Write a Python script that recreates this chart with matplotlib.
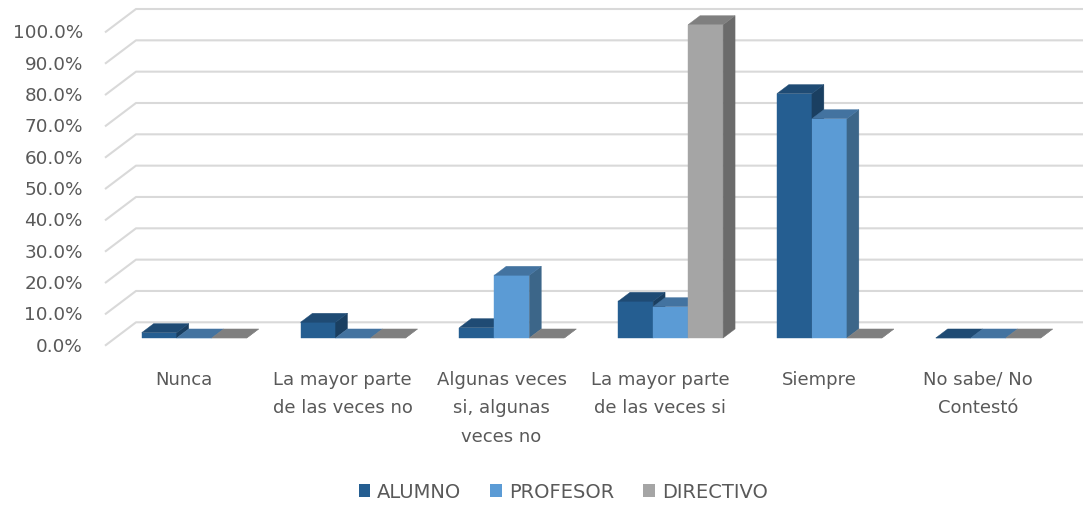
import matplotlib
matplotlib.use("Agg")
import matplotlib.pyplot as plt
from matplotlib.patches import Polygon, Patch

# data (percent)
categories = [
    "Nunca",
    "La mayor parte\nde las veces no",
    "Algunas veces\nsi, algunas\nveces no",
    "La mayor parte\nde las veces si",
    "Siempre",
    "No sabe/ No\nContestó",
]
series_names = ["ALUMNO", "PROFESOR", "DIRECTIVO"]
alumno = [1.7, 5.0, 3.3, 11.7, 78.0, 0.0]
profesor = [0.0, 0.0, 20.0, 10.0, 70.0, 0.0]
directivo = [0.0, 0.0, 0.0, 100.0, 0.0, 0.0]
y_ticks = [0, 10, 20, 30, 40, 50, 60, 70, 80, 90, 100]

# (front, top, side) colours per series
colors = [
    ("#255e91", "#1f4b74", "#1a3f61"),
    ("#5b9bd5", "#4373a0", "#3c6689"),
    ("#a5a5a5", "#7f7f7f", "#6b6b6b"),
]
TEXT_COLOR = "#595959"
GRID_COLOR = "#d9d9d9"

# pixel calibration of the fake 3d view
W_PX, H_PX = 1083, 506
X0_PX, PX_PER_CAT = 184.0, 158.8
Y0_PX, PX_PER_PCT = 346.7, 3.133
DEPTH_X = 31.0 / PX_PER_CAT      # full floor depth, x shift
DEPTH_Y = 23.4 / PX_PER_PCT      # full floor depth, y shift
BAR_W = 35.0 / PX_PER_CAT
BAR_D0, BAR_D1 = 0.33, 0.715
WALL_X = (105.0 - X0_PX) / PX_PER_CAT


def _proj(x, v, d):
    return (x + d * DEPTH_X, v + d * DEPTH_Y)


def _bar(ax, xl, v, cols, z):
    front, top, side = cols
    xr = xl + BAR_W
    faces = [
        ([_proj(xl, 0, BAR_D0), _proj(xr, 0, BAR_D0), _proj(xr, v, BAR_D0), _proj(xl, v, BAR_D0)], front),
        ([_proj(xr, 0, BAR_D0), _proj(xr, 0, BAR_D1), _proj(xr, v, BAR_D1), _proj(xr, v, BAR_D0)], side),
        ([_proj(xl, v, BAR_D0), _proj(xr, v, BAR_D0), _proj(xr, v, BAR_D1), _proj(xl, v, BAR_D1)], top),
    ]
    for pts, c in faces:
        ax.add_patch(Polygon(pts, closed=True, facecolor=c, edgecolor=c, linewidth=0.3, zorder=z))


fig = plt.figure(figsize=(W_PX / 100, H_PX / 100), dpi=100)
ax = fig.add_axes([0, 0, 1, 1])
ax.set_xlim(-X0_PX / PX_PER_CAT, (W_PX - X0_PX) / PX_PER_CAT)
ax.set_ylim((Y0_PX - H_PX) / PX_PER_PCT, Y0_PX / PX_PER_PCT)
ax.axis("off")

# gridlines: short diagonal on the side wall, then along the back wall
x_right = (W_PX - X0_PX) / PX_PER_CAT
for t in y_ticks:
    p0 = _proj(WALL_X, t, 0)
    p1 = _proj(WALL_X, t, 1)
    ax.plot([p0[0], p1[0], x_right], [p0[1], p1[1], p1[1]], color=GRID_COLOR,
            linewidth=1.5, zorder=1, solid_capstyle="butt")
    ax.text(WALL_X - 0.14, t, f"{t:.1f}%", ha="right", va="center",
            fontsize=13.2, color=TEXT_COLOR)

values = [alumno, profesor, directivo]
z = 2
for i in range(len(categories)):
    for s, vals in enumerate(values):
        xl = i + (s - 1.5) * BAR_W
        _bar(ax, xl, vals[i], colors[s], z)
        z += 1

# category labels, one text per line
for i, lab in enumerate(categories):
    for k, line in enumerate(lab.split("\n")):
        ax.text(i, -12.2 - k * 9.1, line, ha="center", va="baseline",
                fontsize=13.0, color=TEXT_COLOR)

handles = [Patch(facecolor=colors[s][0], edgecolor="none") for s in range(3)]
fig.legend(handles, series_names, loc="center", bbox_to_anchor=(0.52, 1 - 493 / H_PX),
           ncol=3, frameon=False, fontsize=14, handlelength=0.6, handleheight=0.6,
           handletextpad=0.35, columnspacing=1.5, labelcolor=TEXT_COLOR)

fig.savefig("out.png", dpi=100)
